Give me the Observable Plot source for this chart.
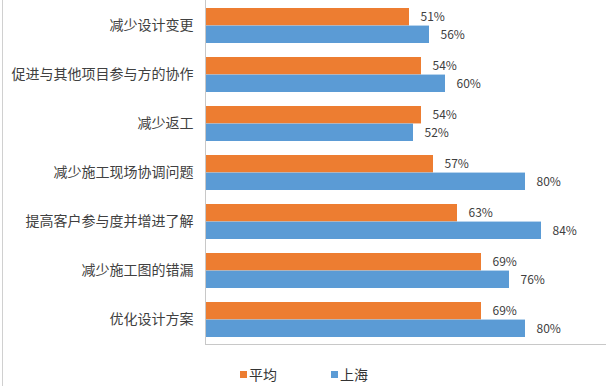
<!DOCTYPE html>
<html>
<head>
<meta charset="utf-8">
<script src="https://cdn.jsdelivr.net/npm/d3@7"></script>
<script src="https://cdn.jsdelivr.net/npm/@observablehq/plot@0.6"></script>
<style>
  body { margin: 0; background: #fff; font-family: "Noto Sans CJK SC", "Noto Sans", sans-serif; }
  #wrap { position: relative; width: 608px; height: 386px; overflow: hidden; }
  #edge { position: absolute; left: 2px; top: 0; width: 1px; height: 386px; background: #d0d0d0; }
  #legend { display: flex; justify-content: center; gap: 54px; margin-top: 12px; line-height: 20px; font-size: 14px; color: #333; }
  #legend span.item { display: inline-flex; align-items: center; }
  #legend span.sw { display: inline-block; width: 7px; height: 7px; margin-right: 2px; }
</style>
</head>
<body>
<div id="wrap"><div id="edge"></div><div id="chart"></div><div id="legend"></div></div>
<script>
const categories = ["减少设计变更", "促进与其他项目参与方的协作", "减少返工", "减少施工现场协调问题", "提高客户参与度并增进了解", "减少施工图的错漏", "优化设计方案"];
const seriesNames = ["平均", "上海"];
const avgValues = [51, 54, 54, 57, 63, 69, 69];
const shanghaiValues = [56, 60, 52, 80, 84, 76, 80];
const colors = ["#ED7D31", "#5B9BD5"];

const avgData = categories.map((c, i) => ({cat: c, v: avgValues[i]}));
const shData = categories.map((c, i) => ({cat: c, v: shanghaiValues[i]}));

const H = 352, MB = 8;
const band = (H - MB) / categories.length;
const barTop = 7, split = band / 2, barBot = 7;
const font = '"Noto Sans CJK SC", "Noto Sans", sans-serif';

const chart = Plot.plot({
  width: 608,
  height: H,
  marginTop: 0,
  marginBottom: MB,
  marginLeft: 205,
  marginRight: 3,
  style: {fontFamily: font, background: "#fff"},
  x: {domain: [0, 100], axis: null},
  y: {domain: categories, padding: 0, label: null},
  marks: [
    Plot.barX(avgData, {y: "cat", x: "v", fill: colors[0], insetTop: barTop, insetBottom: band - split}),
    Plot.barX(shData, {y: "cat", x: "v", fill: colors[1], insetTop: split, insetBottom: barBot}),
    Plot.text(avgData, {y: "cat", x: "v", text: d => d.v + "%", dx: 11, dy: -(split - (barTop + split) / 2), textAnchor: "start", fontSize: 12, fill: "#404040"}),
    Plot.text(shData, {y: "cat", x: "v", text: d => d.v + "%", dx: 11, dy: ((split + band - barBot) / 2 - split), textAnchor: "start", fontSize: 12, fill: "#404040"}),
    Plot.ruleX([0], {stroke: "#c8c8c8", strokeWidth: 1}),
    Plot.frame({anchor: "bottom", stroke: "#c8c8c8"}),
    Plot.axisY({tickSize: 0, tickPadding: 12, fontSize: 14, fill: "#404040", label: null})
  ]
});
document.getElementById("chart").appendChild(chart);

const legend = document.getElementById("legend");
seriesNames.forEach((name, i) => {
  const item = document.createElement("span");
  item.className = "item";
  const sw = document.createElement("span");
  sw.className = "sw";
  sw.style.background = colors[i];
  item.appendChild(sw);
  item.appendChild(document.createTextNode(name));
  legend.appendChild(item);
});
</script>
</body>
</html>
